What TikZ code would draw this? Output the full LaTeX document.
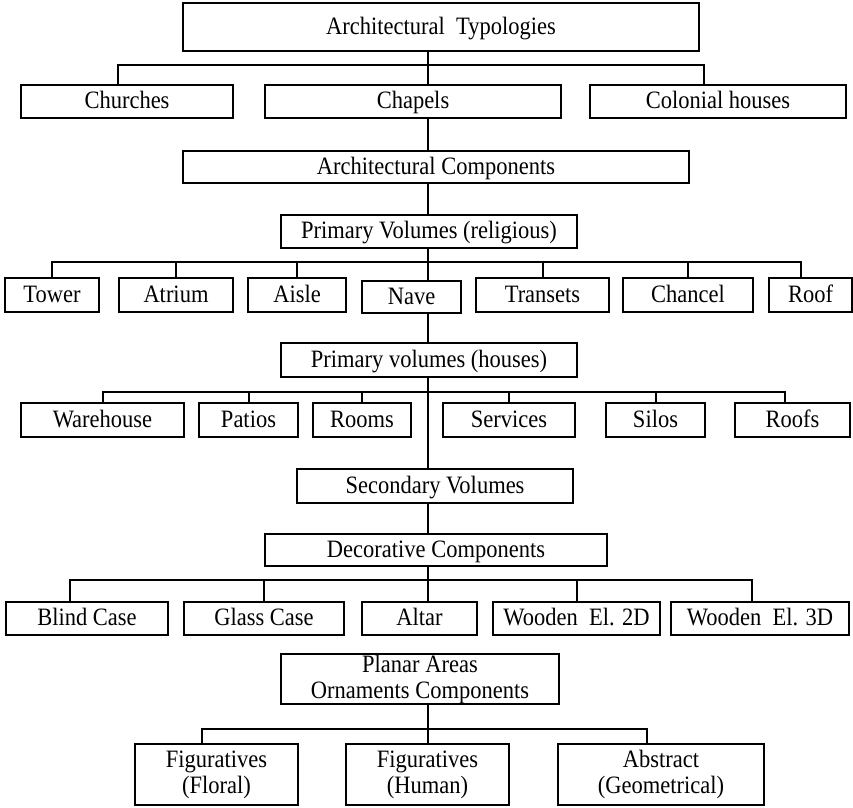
\documentclass[tikz,border=0pt]{standalone}
\usepackage{fontspec}
\setmainfont{Liberation Serif}[FakeStretch=0.9]
\usepackage{tikz}

\tikzset{
  box/.style={draw, line width=1.3pt, inner sep=0pt, minimum height=33pt, text height=18pt, text depth=4pt},
  twobox/.style={draw, line width=1.3pt, inner sep=0pt, align=center},
  link/.style={line width=2pt}
}

\begin{document}
\begin{tikzpicture}[x=1pt, y=-1pt, font=\fontsize{25}{26}\selectfont]
        \useasboundingbox (0,0) rectangle (853,807);
        \node[box, minimum width=516, minimum height=48] (top) at (441,27) {Architectural\ \ Typologies};
        \node[box, minimum width=212] (churches) at (127,101.5) {Churches};
        \node[box, minimum width=296] (chapels) at (413,101.5) {Chapels};
        \node[box, minimum width=256] (colonial) at (718,101.5) {Colonial houses};
        \node[box, minimum width=506, minimum height=32] (archcomp) at (436,167) {Architectural Components};
        \node[box, minimum width=296] (primrel) at (429,231.5) {Primary Volumes (religious)};
        \node[box, minimum width=94, minimum height=34] (tower) at (52,295) {Tower};
        \node[box, minimum width=114, minimum height=34] (atrium) at (176,295) {Atrium};
        \node[box, minimum width=98, minimum height=34] (aisle) at (297,295) {Aisle};
        \node[box, minimum width=99, minimum height=32] (nave) at (411.5,297) {Nave};
        \node[box, minimum width=133, minimum height=34] (transets) at (542.5,295) {Transets};
        \node[box, minimum width=130, minimum height=34] (chancel) at (688,295) {Chancel};
        \node[box, minimum width=83, minimum height=34] (roof) at (810.5,295) {Roof};
        \node[box, minimum width=296, minimum height=34] (primhouse) at (429,360) {Primary volumes (houses)};
        \node[box, minimum width=163, minimum height=34] (warehouse) at (102.5,420) {Warehouse};
        \node[box, minimum width=99, minimum height=34] (patios) at (248.5,420) {Patios};
        \node[box, minimum width=98, minimum height=34] (rooms) at (362,420) {Rooms};
        \node[box, minimum width=132, minimum height=34] (services) at (509,420) {Services};
        \node[box, minimum width=99, minimum height=34] (silos) at (655.5,420) {Silos};
        \node[box, minimum width=115, minimum height=34] (roofs) at (792.5,420) {Roofs};
        \node[box, minimum width=276, minimum height=34] (secvol) at (435,486) {Secondary Volumes};
        \node[box, minimum width=342, minimum height=32] (deco) at (436,550) {Decorative Components};
        \node[box, minimum width=162] (blind) at (87,618.5) {Blind Case};
        \node[box, minimum width=160] (glass) at (264,618.5) {Glass Case};
        \node[box, minimum width=115] (altar) at (419.5,618.5) {Altar};
        \node[box, minimum width=167] (woodtwo) at (576.5,618.5) {Wooden\ \ El. 2D};
        \node[box, minimum width=178] (woodthree) at (760,618.5) {Wooden\ \ El. 3D};
        \node[twobox, minimum width=278, minimum height=50] (planar) at (420,679) {Planar Areas\\Ornaments Components};
        \node[twobox, minimum width=163, minimum height=61] (floral) at (216.5,774.5) {Figuratives\\(Floral)};
        \node[twobox, minimum width=163, minimum height=61] (human) at (427.5,774.5) {Figuratives\\(Human)};
        \node[twobox, minimum width=206, minimum height=61] (geom) at (661,774.5) {Abstract\\(Geometrical)};

        \coordinate (spine) at (428,0);
        \coordinate (b1) at (428,64.5);
        \coordinate (b2) at (428,262);
        \coordinate (b3) at (428,392);
        \coordinate (b4) at (428,580);
        \coordinate (b5) at (428,729);

        \foreach \a/\b in {top/chapels, chapels/archcomp, archcomp/primrel, primrel/nave, nave/primhouse, primhouse/secvol, secvol/deco, deco/altar, planar/human}
            \draw[link] (\a.south -| spine) -- (\b.north -| spine);

        \draw[link] ([xshift=-9pt]churches.north) |- (b1) -| ([xshift=-14pt]colonial.north);
        \draw[link] (tower.north) |- (b2) -| ([xshift=-9.5pt]roof.north);
        \draw[link] (warehouse.north) |- (b3) -| ([xshift=-7.5pt]roofs.north);
        \draw[link] ([xshift=-17pt]blind.north) |- (b4) -| ([xshift=-8pt]woodthree.north);
        \draw[link] ([xshift=-15pt]floral.north) |- (b5) -| ([xshift=-14pt]geom.north);

        \foreach \n in {atrium, aisle, transets, chancel}
            \draw[link] (\n.north) -- (\n.north |- b2);
        \foreach \n in {patios, rooms, services, silos}
            \draw[link] (\n.north) -- (\n.north |- b3);
        \foreach \n in {glass, woodtwo}
            \draw[link] (\n.north) -- (\n.north |- b4);
    \end{tikzpicture}
\end{document}
